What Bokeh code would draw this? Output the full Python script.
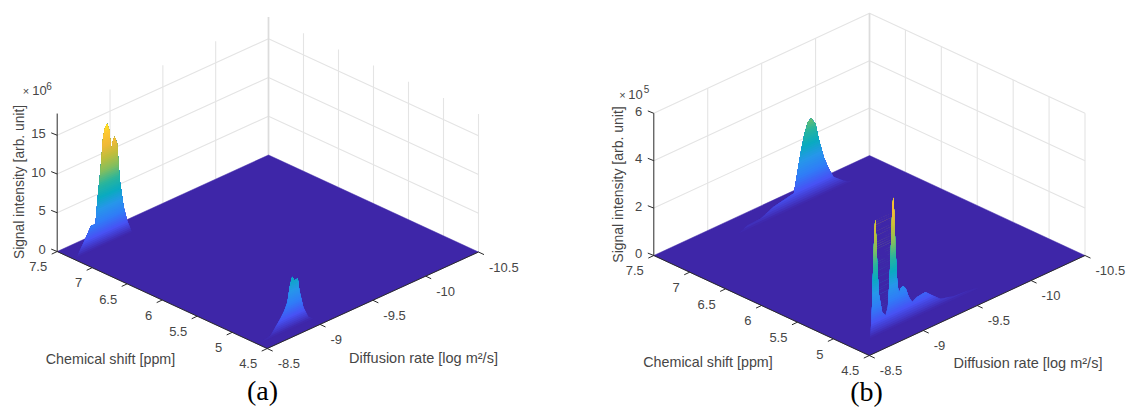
from math import pi
from bokeh.plotting import figure
from bokeh.models import Range1d
from bokeh.core.properties import value
from bokeh.embed import file_html
from bokeh.resources import INLINE

# ---------------- data ----------------
cs_ticks = [7.5, 7, 6.5, 6, 5.5, 5, 4.5]
cs_labels = ["7.5", "7", "6.5", "6", "5.5", "5", "4.5"]
d_ticks = [-8.5, -9, -9.5, -10, -10.5]
d_labels = ["-8.5", "-9", "-9.5", "-10", "-10.5"]
za_ticks = [0, 5, 10, 15]
za_labels = ["0", "5", "10", "15"]
zb_ticks = [0, 2, 4, 6]
zb_labels = ["0", "2", "4", "6"]

# panel (a): ridges, intensity in 1e6
a1_cs = 7.27
a1_d = [-8.529, -8.615, -8.669, -8.709, -8.731, -8.757, -8.782, -8.80, -8.820, -8.842, -8.858,
        -8.871, -8.890, -8.915, -8.940, -8.978, -9.010, -9.057]
a1_z = [0, 1.92, 3.26, 3.13, 6.49, 9.81, 13.9, 15.0, 15.45, 14.44, 11.76,
        12.7, 13.37, 12.3, 7.38, 3.65, 1.78, 0]
a2_cs = 4.64
a2_d = [-8.509, -8.623, -8.718, -8.756, -8.784, -8.808, -8.829, -8.851, -8.882, -8.898, -8.936, -8.983, -9.03]
a2_z = [0, 0.32, 1.92, 2.72, 3.6, 5.6, 6.64, 6.0, 6.1, 4.4, 2.0, 0.5, 0]

# panel (b): ridges, intensity in 1e5
b1_cs = 7.24
b1_d = [-9.113, -9.194, -9.317, -9.437, -9.625, -9.656, -9.687, -9.724, -9.755, -9.786, -9.826,
        -9.856, -9.903, -9.949, -9.995, -10.088, -10.134, -10.178]
b1_z = [0, 0.18, 0.2, 0.45, 0.62, 1.37, 2.15, 2.92, 3.34, 3.44, 3.12,
        2.43, 1.55, 0.97, 0.52, 0.18, 0.06, 0]
b2_cs = 4.75
b2_d = [-8.671, -8.684, -8.694, -8.703, -8.712, -8.721, -8.731, -8.740, -8.755, -8.786, -8.817, -8.838,
        -8.854, -8.869, -8.879, -8.888, -8.897, -8.909, -8.925, -8.940, -8.956, -8.981, -9.005, -9.032,
        -9.064, -9.110, -9.187, -9.249, -9.326, -9.449, -9.634, -9.681]
b2_z = [0, 0.6, 1.57, 3.1, 4.2, 4.92, 4.16, 3.02, 1.72, 0.88, 0.67, 0.97,
        2.07, 3.72, 4.97, 5.5, 4.92, 3.35, 1.92, 1.33, 1.51, 1.57, 1.41, 1.0,
        0.72, 0.83, 0.88, 0.61, 0.3, 0.16, 0.08, 0]

# ---------------- style ----------------
PARULA = [(0.00, (62, 38, 168)), (0.10, (71, 82, 244)), (0.20, (48, 124, 247)), (0.30, (39, 150, 235)),
          (0.40, (10, 170, 192)), (0.50, (42, 181, 156)), (0.60, (130, 190, 95)), (0.70, (190, 190, 60)),
          (0.80, (240, 185, 55)), (0.90, (254, 200, 50)), (1.00, (249, 251, 21))]
TXT = "#464646"
AX = "#2a2a2a"
GRID = "#e4e4e4"
FONT = "Liberation Sans"


def cmap(c):
    c = max(0.0, min(1.0, c))
    for (c0, a), (c1, b) in zip(PARULA, PARULA[1:]):
        if c <= c1:
            f = (c - c0) / (c1 - c0)
            return "#%02x%02x%02x" % tuple(round(a[i] + f * (b[i] - a[i])) for i in range(3))
    return "#f9fb15"


p = figure(width=1126, height=407, x_range=Range1d(0, 1126), y_range=Range1d(407, 0),
           x_axis_location=None, y_axis_location=None, toolbar_location=None,
           output_backend="svg", min_border=0, outline_line_color=None)
p.grid.visible = False


def text(xs, ys, labels, size=13, align="center", color=TXT, font=FONT, angle=0.0):
    p.text(xs, ys, text=labels, text_font=value(font), text_font_size=value(f"{size}px"),
           text_color=color, text_align=align, text_baseline="middle", angle=angle)


def panel(left, back, front, right, zscale, zmax, cs_t, cs_l, d_t, d_l, z_t, z_l, grid_levels, clim, ridges):
    def P(cs, d, z):
        t = (7.5 - cs) / 3.0
        v = (-8.5 - d) / 2.0
        return (left[0] + t * (front[0] - left[0]) + v * (right[0] - front[0]),
                left[1] + t * (front[1] - left[1]) + v * (right[1] - front[1]) - z * zscale)

    gx, gy = [], []
    # walls: verticals
    for d in d_t[1:]:
        a, b = P(7.5, d, 0), P(7.5, d, zmax)
        gx.append([a[0], b[0]]); gy.append([a[1], b[1]])
    for cs in cs_t[1:]:
        a, b = P(cs, -10.5, 0), P(cs, -10.5, zmax)
        gx.append([a[0], b[0]]); gy.append([a[1], b[1]])
    # walls: horizontals
    for z in grid_levels:
        a, b, c = P(7.5, -8.5, z), P(7.5, -10.5, z), P(4.5, -10.5, z)
        gx.append([a[0], b[0], c[0]]); gy.append([a[1], b[1], c[1]])
    p.multi_line(gx, gy, line_color=GRID, line_width=1.1)
    a, b = P(7.5, -10.5, 0), P(7.5, -10.5, zmax)
    p.line([a[0], b[0]], [a[1], b[1]], line_color="#dcdcdc", line_width=1.7)

    # floor of the surface
    cx = [P(7.5, -8.5, 0), P(7.5, -10.5, 0), P(4.5, -10.5, 0), P(4.5, -8.5, 0)]
    p.patch([q[0] for q in cx], [q[1] for q in cx], fill_color=cmap(0), line_color=cmap(0), line_width=0.5)

    # ridges, painted level by level so the colour follows the intensity
    levels = 64
    px, py, pc = [], [], []
    for cs, ds, zs in ridges:
        pts = list(zip(ds, zs))
        for k in range(levels):
            lo = clim * k / levels
            clip = []
            n = len(pts)
            for i in range(n):
                d0, z0 = pts[i]
                d1, z1 = pts[(i + 1) % n]
                if z0 >= lo:
                    clip.append((d0, z0))
                if (z0 >= lo) != (z1 >= lo):
                    f = (lo - z0) / (z1 - z0)
                    clip.append((d0 + f * (d1 - d0), lo))
            if len(clip) < 3:
                continue
            q = [P(cs, d, z) for d, z in clip]
            px.append([s[0] for s in q]); py.append([s[1] for s in q]); pc.append(cmap((k + 0.5) / levels))
    p.patches(px, py, fill_color=pc, line_color=None)

    # axes
    ax_x, ax_y = [], []
    a, b, c = P(7.5, -8.5, 0), P(4.5, -8.5, 0), P(4.5, -10.5, 0)
    ax_x.append([a[0], b[0], c[0]]); ax_y.append([a[1], b[1], c[1]])
    a, b = P(7.5, -8.5, 0), P(7.5, -8.5, zmax)
    ax_x.append([a[0], b[0]]); ax_y.append([a[1], b[1]])
    for cs in cs_t:
        a = P(cs, -8.5, 0)
        ax_x.append([a[0], a[0] - 5.5]); ax_y.append([a[1], a[1] + 2.6])
    for d in d_t:
        a = P(4.5, d, 0)
        ax_x.append([a[0], a[0] + 5.5]); ax_y.append([a[1], a[1] + 2.6])
    for z in z_t:
        a = P(7.5, -8.5, z)
        ax_x.append([a[0], a[0] - 6]); ax_y.append([a[1], a[1] - 2.4])
    p.multi_line(ax_x, ax_y, line_color=AX, line_width=1)

    # tick labels
    text([P(c, -8.5, 0)[0] - 10 for c in cs_t], [P(c, -8.5, 0)[1] + 15.3 for c in cs_t], cs_l, align="right")
    text([P(4.5, d, 0)[0] + 10.5 for d in d_t], [P(4.5, d, 0)[1] + 15.3 for d in d_t], d_l, align="left")
    text([P(7.5, -8.5, z)[0] - 11.5 for z in z_t], [P(7.5, -8.5, z)[1] - 2 for z in z_t], z_l, align="right")


panel((56.7, 251), (267.7, 154), (266.7, 348), (478, 251.5), 7.75, 17.8,
      cs_ticks, cs_labels, d_ticks, d_labels, za_ticks, za_labels, za_ticks[1:], 16.0,
      [(a1_cs, a1_d, a1_z), (a2_cs, a2_d, a2_z)])
panel((653.3, 255), (869, 156), (868.8, 355), (1084.5, 255), 23.7, 6.0,
      cs_ticks, cs_labels, d_ticks, d_labels, zb_ticks, zb_labels, zb_ticks[1:], 6.0,
      [(b1_cs, b1_d, b1_z), (b2_cs, b2_d, b2_z)])

# axis titles
text([18.5], [181.5], ["Signal intensity [arb. unit]"], size=13.8, angle=pi / 2)
text([110], [358], ["Chemical shift [ppm]"], size=14.3)
text([423], [357], ["Diffusion rate [log m\u00b2/s]"], size=14.5)
text([617], [184], ["Signal intensity [arb. unit]"], size=14, angle=pi / 2)
text([707.5], [361], ["Chemical shift [ppm]"], size=14.3)
text([1027.5], [362.5], ["Diffusion rate [log m\u00b2/s]"], size=14.5)

# exponent labels
text([25.5], [90.5], ["\u00d7"], size=11)
text([39], [89.5], ["10"], size=13)
text([48.5], [85], ["6"], size=10)
text([622], [94.5], ["\u00d7"], size=11)
text([635], [93.5], ["10"], size=13)
text([646], [88.5], ["5"], size=10)

# panel letters
text([262], [390], ["(a)"], size=28, color="#000000", font="Liberation Serif")
text([866], [391], ["(b)"], size=28, color="#000000", font="Liberation Serif")

open("out.html", "w").write(file_html(p, INLINE))
